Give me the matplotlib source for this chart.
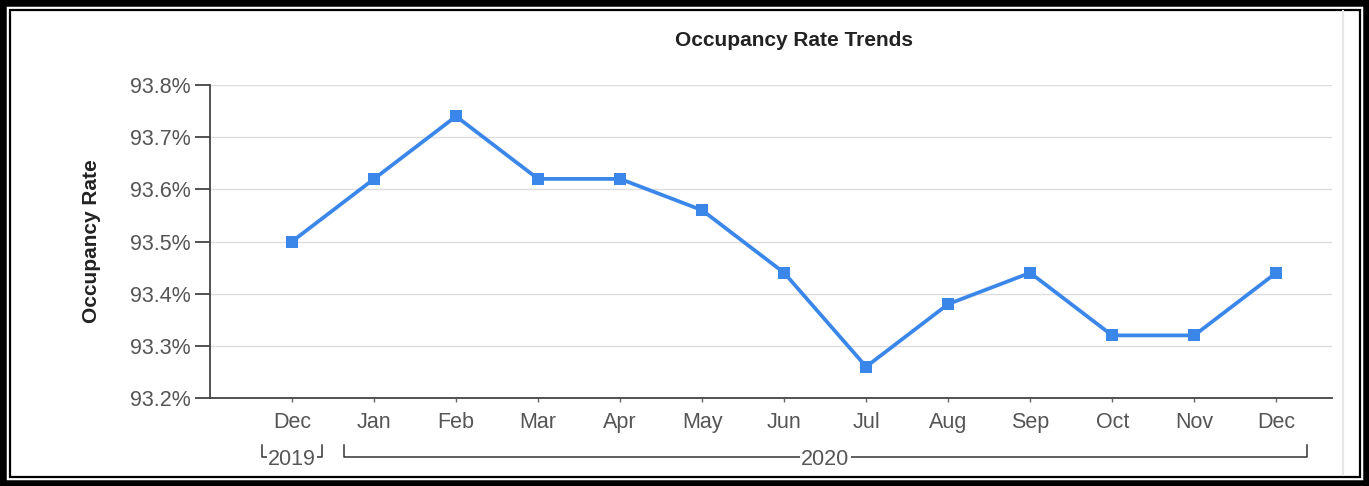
import matplotlib.pyplot as plt
from matplotlib.patches import Rectangle
from matplotlib.lines import Line2D
from matplotlib.ticker import FuncFormatter

plt.rcParams['font.family'] = ['Liberation Sans', 'DejaVu Sans']

months = ['Dec', 'Jan', 'Feb', 'Mar', 'Apr', 'May', 'Jun',
          'Jul', 'Aug', 'Sep', 'Oct', 'Nov', 'Dec']
occupancy = [93.50, 93.62, 93.74, 93.62, 93.62, 93.56, 93.44,
             93.26, 93.38, 93.44, 93.32, 93.32, 93.44]
yticks = [93.2, 93.3, 93.4, 93.5, 93.6, 93.7, 93.8]
# year groups: label, first month index, last month index
years = [('2019', 0, 0), ('2020', 1, 12)]

W, H = 1369, 486
fig = plt.figure(figsize=(W / 100, H / 100), dpi=100)
ax = fig.add_axes([210 / W, 1 - 398 / H, 1122 / W, 313 / H])

x = list(range(len(months)))
ax.plot(x, occupancy, color='#3a87e9', lw=2.7, marker='s', ms=8.5,
        markeredgewidth=0, zorder=3)

ax.set_xlim(-1, 12.68)
ax.set_ylim(93.2, 93.8)
ax.set_yticks(yticks)
ax.yaxis.set_major_formatter(FuncFormatter(lambda v, p: f'{v:.1f}%'))
ax.set_xticks(x)
ax.set_xticklabels(months)
ax.grid(axis='y', color='#dddddd', lw=1)
ax.set_axisbelow(True)
for s in ['top', 'right']:
    ax.spines[s].set_visible(False)
for s in ['left', 'bottom']:
    ax.spines[s].set_color('#444444')
    ax.spines[s].set_linewidth(1.3)
ax.tick_params(axis='y', length=11, width=1.3, color='#444444',
               labelsize=15.5, labelcolor='#555555', pad=3)
ax.tick_params(axis='x', length=3, width=1, color='#666666',
               labelsize=15.5, labelcolor='#555555', pad=7)

ax.set_ylabel('Occupancy Rate', fontsize=15, fontweight='bold',
              color='#222222', labelpad=21)
fig.text(794 / W, 1 - 41 / H, 'Occupancy Rate Trends', ha='center',
         va='center', fontsize=15, fontweight='bold', color='#222222')

# year brackets under the month labels
tr = ax.get_xaxis_transform()
yb, yt = -0.19, -0.15
for label, i0, i1 in years:
    x0, x1 = i0 - 0.37, i1 + 0.37
    ax.add_line(Line2D([x0, x0, x1, x1], [yt, yb, yb, yt], transform=tr,
                       color='#333333', lw=1.1, clip_on=False))
    ax.text((x0 + x1) / 2, yb - 0.005, label, transform=tr, ha='center',
            va='center', fontsize=15.5, color='#555555',
            bbox=dict(facecolor='white', edgecolor='none', pad=1))

# frame around the picture
fig.patches.append(Rectangle((0, 0), 1, 1, transform=fig.transFigure,
                             fill=False, edgecolor='black', lw=9))
fig.patches.append(Rectangle((10 / W, 9 / H), 1 - 19.5 / W, 1 - 19 / H,
                             transform=fig.transFigure, fill=False,
                             edgecolor='black', lw=1.6))
fig.add_artist(Line2D([1343 / W, 1343 / W], [11 / H, 1 - 11 / H],
                      transform=fig.transFigure, color='#e6e6e6', lw=1.5))

fig.savefig('out.png', dpi=100)
